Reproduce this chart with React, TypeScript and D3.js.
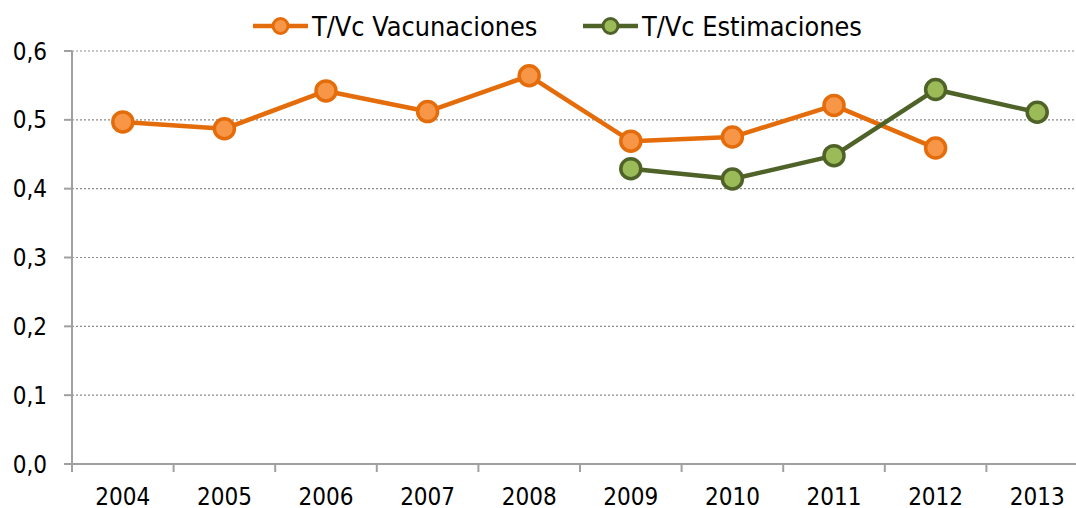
import React, { useEffect, useRef } from "react";
import * as d3 from "d3";

const years = ["2004", "2005", "2006", "2007", "2008", "2009", "2010", "2011", "2012", "2013"];
const vacunaciones: (number | null)[] = [0.497, 0.487, 0.542, 0.512, 0.564, 0.469, 0.475, 0.521, 0.459, null];
const estimaciones: (number | null)[] = [null, null, null, null, null, 0.429, 0.414, 0.448, 0.544, 0.511];
const yTicks = [0, 0.1, 0.2, 0.3, 0.4, 0.5, 0.6];

const series = [
  { name: "T/Vc Vacunaciones", values: vacunaciones, line: "#E46C0A", fill: "#F79646" },
  { name: "T/Vc Estimaciones", values: estimaciones, line: "#4F6228", fill: "#9BBB59" },
];

const App = () => {
  const ref = useRef<SVGSVGElement>(null);

  useEffect(() => {
    const svg = d3.select(ref.current);
    svg.selectAll("*").remove();
    const width = 1076;
    const font = "'DejaVu Sans Condensed', 'DejaVu Sans', sans-serif";
    const left = 72;
    const top = 51;
    const bottom = 464;

    const x = d3.scaleBand().domain(years).range([left, left + 101.6 * years.length]);
    const y = d3.scaleLinear().domain([0, 0.6]).range([bottom, top]);

    // gridlines
    svg
      .append("g")
      .selectAll("line")
      .data(yTicks.slice(1))
      .enter()
      .append("line")
      .attr("x1", left)
      .attr("x2", width)
      .attr("y1", (d) => y(d))
      .attr("y2", (d) => y(d))
      .attr("stroke", "#8c8c8c")
      .attr("stroke-width", 1.2)
      .attr("stroke-dasharray", "2,2");

    // y axis
    const gy = svg.append("g").attr("transform", `translate(${left},0)`);
    gy.append("line").attr("y1", top).attr("y2", bottom).attr("stroke", "#a0a0a0").attr("stroke-width", 2);
    gy.selectAll("line.tick")
      .data(yTicks)
      .enter()
      .append("line")
      .attr("class", "tick")
      .attr("x1", -8)
      .attr("x2", 0)
      .attr("y1", (d) => y(d))
      .attr("y2", (d) => y(d))
      .attr("stroke", "#a0a0a0")
      .attr("stroke-width", 2);
    gy.selectAll("text")
      .data(yTicks)
      .enter()
      .append("text")
      .attr("x", -25)
      .attr("y", (d) => y(d))
      .attr("dy", "0.36em")
      .attr("text-anchor", "end")
      .style("font-family", font)
      .style("font-size", "24px")
      .style("fill", "#000")
      .text((d) => d.toFixed(1).replace(".", ","));

    // x axis
    const gx = svg.append("g").attr("transform", `translate(0,${bottom})`);
    gx.append("line").attr("x1", left - 8).attr("x2", width).attr("stroke", "#a0a0a0").attr("stroke-width", 2);
    gx.selectAll("line.tick")
      .data(years)
      .enter()
      .append("line")
      .attr("class", "tick")
      .attr("x1", (d) => x(d)!)
      .attr("x2", (d) => x(d)!)
      .attr("y1", 0)
      .attr("y2", 8)
      .attr("stroke", "#a0a0a0")
      .attr("stroke-width", 2);
    gx.selectAll("text")
      .data(years)
      .enter()
      .append("text")
      .attr("x", (d) => x(d)! + x.bandwidth() / 2)
      .attr("y", 41)
      .attr("text-anchor", "middle")
      .style("font-family", font)
      .style("font-size", "24px")
      .style("fill", "#000")
      .text((d) => d);

    const cx = (i: number) => x(years[i])! + x.bandwidth() / 2;
    const line = d3
      .line<number | null>()
      .defined((d) => d !== null)
      .x((d, i) => cx(i))
      .y((d) => y(d as number));

    series.forEach((s) => {
      const g = svg.append("g");
      g.append("path")
        .attr("d", line(s.values))
        .attr("fill", "none")
        .attr("stroke", s.line)
        .attr("stroke-width", 4.5)
        .attr("stroke-linejoin", "round");
      g.selectAll("circle")
        .data(s.values.map((v, i) => ({ v, i })).filter((d) => d.v !== null))
        .enter()
        .append("circle")
        .attr("cx", (d) => cx(d.i))
        .attr("cy", (d) => y(d.v as number))
        .attr("r", 10)
        .attr("fill", s.fill)
        .attr("stroke", s.line)
        .attr("stroke-width", 3.5);
    });

    // legend
    const legendX = [253, 583];
    series.forEach((s, i) => {
      const g = svg.append("g").attr("transform", `translate(${legendX[i]},26)`);
      g.append("line").attr("x1", 0).attr("x2", 55).attr("stroke", s.line).attr("stroke-width", 4.5);
      g.append("circle").attr("cx", 27.5).attr("r", 7.5).attr("fill", s.fill).attr("stroke", s.line).attr("stroke-width", 3);
      g.append("text")
        .attr("x", 59)
        .attr("dy", "0.36em")
        .style("font-family", font)
        .style("font-size", "26.8px")
        .style("fill", "#000")
        .text(s.name);
    });
  }, []);

  return (
    <svg
      ref={ref}
      width={1076}
      height={508}
      style={{ position: "absolute", left: 0, top: 0, background: "#fff" }}
    ></svg>
  );
};

export default App;
